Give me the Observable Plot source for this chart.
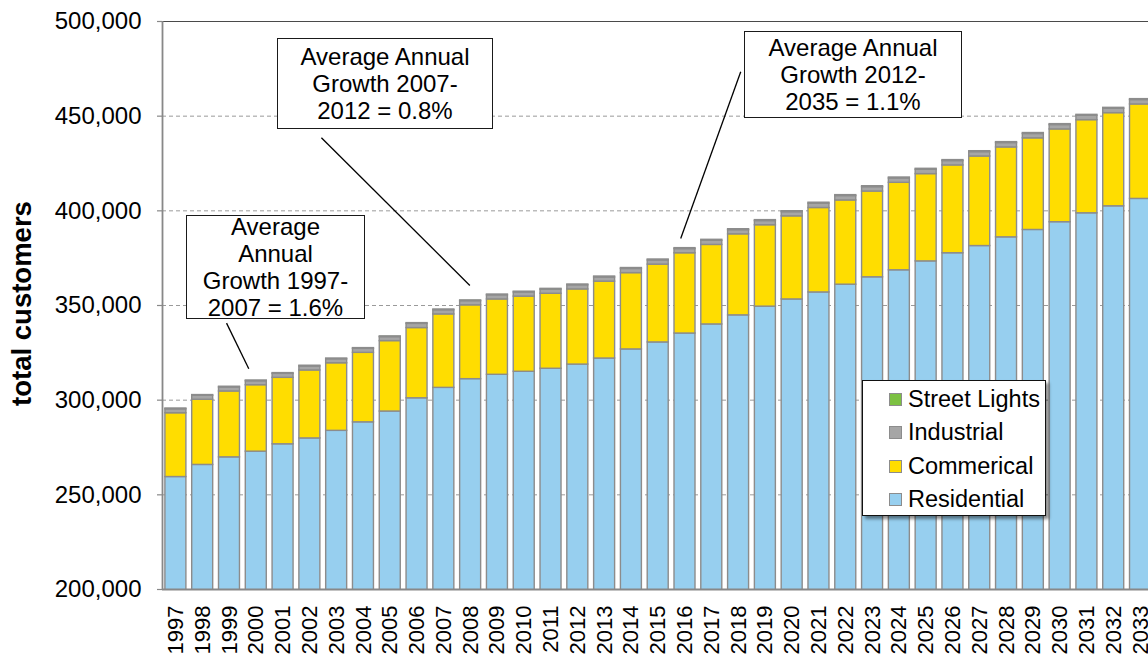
<!DOCTYPE html>
<html>
<head>
<meta charset="utf-8">
<script src="https://cdn.jsdelivr.net/npm/d3@7"></script>
<script src="https://cdn.jsdelivr.net/npm/@observablehq/plot@0.6"></script>
<style>
  html, body { margin: 0; padding: 0; overflow: hidden; background: #fff; }
  #wrap { position: relative; width: 1215px; height: 658px; font-family: "Liberation Sans", Arial, sans-serif; color: #000; }
  .note { position: absolute; box-sizing: border-box; border: 1.5px solid #1a1a1a; background: #fff;
          display: flex; align-items: center; justify-content: center; text-align: center;
          font-size: 24px; line-height: 27px; }
  #legend { position: absolute; left: 862px; top: 380px; width: 184px; height: 136px; box-sizing: border-box;
            border: 1.5px solid #111; background: #fff; box-shadow: 3px 3px 3px rgba(0,0,0,0.45);
            font-size: 23.5px; padding-top: 2px; }
  #legend .row { display: flex; align-items: center; height: 33.3px; }
  #legend .sw { width: 11px; height: 11px; border: 1.5px solid #8c8c8c; margin-left: 26px; margin-right: 6px; flex: none; }
</style>
</head>
<body>
<div id="wrap"></div>
<script>
// ---- data ----
const years = [1997, 1998, 1999, 2000, 2001, 2002, 2003, 2004, 2005, 2006, 2007, 2008, 2009, 2010, 2011, 2012,
  2013, 2014, 2015, 2016, 2017, 2018, 2019, 2020, 2021, 2022, 2023, 2024, 2025, 2026, 2027, 2028, 2029, 2030,
  2031, 2032, 2033];
const axisYears = [1997, 1998, 1999, 2000, 2001, 2002, 2003, 2004, 2005, 2006, 2007, 2008, 2009, 2010, 2011, 2012,
  2013, 2014, 2015, 2016, 2017, 2018, 2019, 2020, 2021, 2022, 2023, 2024, 2025, 2026, 2027, 2028, 2029, 2030,
  2031, 2032, 2033, 2034, 2035];
const residential = [259400, 265800, 269800, 272800, 276700, 279800, 283800, 288300, 294000, 301000, 306500,
  311100, 313400, 315000, 316600, 318800, 322000, 326800, 330500, 335200, 340000, 344800, 349400, 353200,
  356900, 361000, 364900, 368600, 373300, 377600, 381400, 386000, 389900, 394000, 398700, 402400, 406300];
const commercial = [33700, 34400, 34800, 35100, 35100, 35900, 35700, 36700, 37200, 37100, 38800, 39000, 39800,
  39700, 39600, 39700, 40600, 40300, 41100, 42400, 42000, 42800, 43000, 43900, 44600, 44500, 45300, 46200,
  46100, 46400, 47300, 47500, 48400, 49000, 49200, 49200, 49900];
const industrial = [2100, 2100, 2100, 2100, 2100, 2100, 2100, 2100, 2100, 2200, 2200, 2200, 2200, 2200, 2200,
  2200, 2200, 2200, 2200, 2200, 2200, 2200, 2200, 2200, 2300, 2300, 2300, 2300, 2300, 2300, 2300, 2300, 2300,
  2300, 2300, 2300, 2300];
const streetLights = [400, 400, 400, 400, 400, 400, 400, 400, 400, 400, 400, 400, 400, 400, 400, 400, 500, 500,
  500, 500, 500, 500, 500, 500, 500, 500, 500, 500, 500, 500, 500, 500, 500, 500, 500, 500, 500];
const seriesNames = ["Residential", "Commerical", "Industrial", "Street Lights"];
const seriesColors = ["#97cfef", "#ffdd00", "#a6a6a6", "#7cc142"];
const yTicks = [200000, 250000, 300000, 350000, 400000, 450000, 500000];
const gridTicks = [250000, 300000, 350000, 400000, 450000];
const yLabel = "total customers";

// annotation leader lines (data coordinates: fractional year, customers)
const leaders = [
  {x1: 1998.89, y1: 340700, x2: 1999.72, y2: 316600},
  {x1: 2002.43, y1: 438600, x2: 2007.97, y2: 360600},
  {x1: 2018.08, y1: 473500, x2: 2015.84, y2: 385400}
];
const notes = [
  {lines: ["Average", "Annual", "Growth 1997-", "2007 = 1.6%"], left: 186, top: 215, width: 179, height: 104},
  {lines: ["Average Annual", "Growth 2007-", "2012 = 0.8%"], left: 277, top: 38, width: 216, height: 91},
  {lines: ["Average Annual", "Growth 2012-", "2035 = 1.1%"], left: 744, top: 31, width: 218, height: 87}
];

// ---- build table ----
const series = [residential, commercial, industrial, streetLights];
const rows = [];
years.forEach((yr, i) => {
  seriesNames.forEach((name, s) => rows.push({year: yr, series: name, value: series[s][i]}));
});

const fmtThousands = d3.format(",");

const chart = Plot.plot({
  width: 1215,
  height: 658,
  marginLeft: 162,
  marginRight: 8,
  marginTop: 21,
  marginBottom: 69,
  style: {fontFamily: "Liberation Sans, Arial, sans-serif", background: "white", color: "#000", overflow: "visible"},
  x: {domain: [1996.5, 2035.5], axis: null},
  y: {domain: [200000, 500000], axis: null},
  color: {domain: seriesNames, range: seriesColors},
  marks: [
    Plot.gridY(gridTicks, {stroke: "#9a9a9a", strokeOpacity: 1, strokeWidth: 1, strokeDasharray: "4,3"}),
    Plot.rectY(rows, {
      x1: d => d.year - 0.5, x2: d => d.year + 0.5, y: "value", fill: "series",
      stroke: "#8c8c8c", strokeWidth: 1.4, insetLeft: 2.9, insetRight: 2.9, clip: true
    }),
    Plot.ruleY([500000], {stroke: "#4a4a4a", strokeWidth: 1.2}),
    Plot.ruleX([1996.5], {stroke: "#888", strokeWidth: 1.8}),
    Plot.ruleY([200000], {stroke: "#888", strokeWidth: 1.8}),
    Plot.ruleY(yTicks, {x1: () => 1996.5, x2: () => 1996.5, insetLeft: -5, stroke: "#888", strokeWidth: 1.2}),
    Plot.axisY(yTicks, {tickFormat: fmtThousands, tickSize: 0, tickPadding: 21, fontSize: 24, label: null}),
    Plot.axisX(axisYears, {tickFormat: d => String(d), tickRotate: -90, tickSize: 0, tickPadding: 16, fontSize: 22, label: null}),
    Plot.text([yLabel], {text: d => d, frameAnchor: "left", textAnchor: "middle", dx: -140, dy: -2, rotate: -90, fontWeight: "bold", fontSize: 27.5}),
    Plot.link(leaders, {x1: "x1", y1: "y1", x2: "x2", y2: "y2", stroke: "#000", strokeWidth: 1.3})
  ]
});

const wrap = document.getElementById("wrap");
wrap.appendChild(chart);

// annotation boxes
notes.forEach(n => {
  const div = document.createElement("div");
  div.className = "note";
  div.style.left = n.left + "px";
  div.style.top = n.top + "px";
  div.style.width = n.width + "px";
  div.style.height = n.height + "px";
  const inner = document.createElement("div");
  n.lines.forEach(t => {
    const line = document.createElement("div");
    line.textContent = t;
    inner.appendChild(line);
  });
  div.appendChild(inner);
  wrap.appendChild(div);
});

// legend (top to bottom: reverse stack order)
const legend = document.createElement("div");
legend.id = "legend";
seriesNames.slice().reverse().forEach(name => {
  const row = document.createElement("div");
  row.className = "row";
  const sw = document.createElement("div");
  sw.className = "sw";
  sw.style.background = seriesColors[seriesNames.indexOf(name)];
  const label = document.createElement("span");
  label.textContent = name;
  row.appendChild(sw);
  row.appendChild(label);
  legend.appendChild(row);
});
wrap.appendChild(legend);
</script>
</body>
</html>
